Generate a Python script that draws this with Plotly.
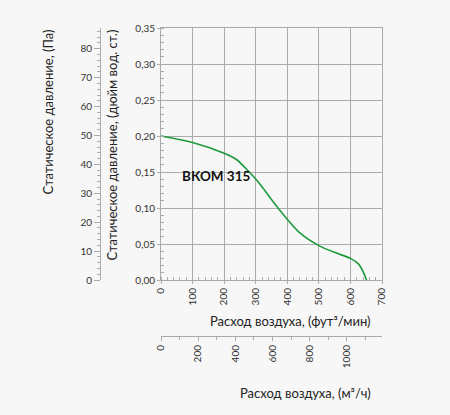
import plotly.graph_objects as go

# кривая вентилятора: расход (фут³/мин) и статическое давление (дюйм вод. ст.)
flow_cfm = [0, 100, 200, 240, 275, 310, 367, 441, 503, 558, 600, 626, 642, 651]
press_inwc = [0.200, 0.191, 0.176, 0.167, 0.152, 0.135, 0.102, 0.065, 0.047, 0.037, 0.030, 0.022, 0.010, 0.0]
curve_name = "ВКОМ 315"

CFM_TO_M3H = 1.699
INWC_TO_PA = 249.09
x_max_cfm = 700
y_max_inwc = 0.35

W, H = 450, 415
BG = "#f7f7f7"
GRID = "#ababab"
TXT = "#333333"
FONT = "Lato"


def px(x):
    return x / W


def py(y):
    return (H - y) / H


fig = go.Figure()

fig.add_trace(go.Scatter(
    x=flow_cfm, y=press_inwc, mode="lines", name=curve_name,
    line=dict(color="#1f9a3c", width=1.6, shape="spline", smoothing=0.8),
    showlegend=False,
))
# пустой след для второй пары осей (м³/ч, Па)
fig.add_trace(go.Scatter(x=[None], y=[None], xaxis="x2", yaxis="y2", showlegend=False))

x_dom = [px(161), px(382)]
y_dom = [py(280), py(28)]

fig.update_layout(
    width=W, height=H,
    margin=dict(l=0, r=0, t=0, b=0),
    paper_bgcolor=BG, plot_bgcolor=BG,
    separators=", ",
    font=dict(family=FONT, size=10, color=TXT),
    xaxis=dict(
        domain=x_dom, range=[0, x_max_cfm], dtick=100, tickangle=-90,
        showgrid=True, gridcolor=GRID, gridwidth=1, zeroline=False,
        showline=True, linecolor=GRID, mirror=True,
        ticks="outside", ticklen=3, tickcolor=GRID,
        minor=dict(dtick=20, ticks="inside", ticklen=3, tickcolor=GRID, showgrid=False),
        automargin=False, fixedrange=True,
    ),
    yaxis=dict(
        domain=y_dom, range=[0, y_max_inwc], dtick=0.05, tickformat=".2f",
        showgrid=True, gridcolor=GRID, gridwidth=1, zeroline=False,
        showline=True, linecolor=GRID, mirror=True,
        ticks="outside", ticklen=3, tickcolor=GRID,
        minor=dict(dtick=0.01, ticks="inside", ticklen=3, tickcolor=GRID, showgrid=False),
        automargin=False, fixedrange=True,
    ),
    xaxis2=dict(
        overlaying="x", anchor="free", position=py(336), side="bottom",
        domain=x_dom, range=[0, x_max_cfm * CFM_TO_M3H], dtick=200, tickangle=-90,
        showgrid=False, zeroline=False, showline=True, linecolor=GRID,
        ticks="outside", ticklen=4, tickcolor=GRID,
        minor=dict(dtick=100, ticks="outside", ticklen=3, tickcolor=GRID, showgrid=False),
        automargin=False, fixedrange=True,
    ),
    yaxis2=dict(
        overlaying="y", anchor="free", position=px(100), side="left",
        domain=y_dom, range=[0, y_max_inwc * INWC_TO_PA], dtick=10,
        showgrid=False, zeroline=False, showline=True, linecolor=GRID,
        ticks="outside", ticklen=6, tickcolor=GRID,
        minor=dict(dtick=2, ticks="outside", ticklen=3, tickcolor=GRID, showgrid=False),
        automargin=False, fixedrange=True,
    ),
)

title_font = dict(family=FONT, size=13, color="#222222")
fig.add_annotation(text="Расход воздуха, (фут³/мин)", xref="paper", yref="paper",
                   x=px(373), y=py(321), xanchor="right", yanchor="middle",
                   showarrow=False, font=title_font)
fig.add_annotation(text="Расход воздуха, (м³/ч)", xref="paper", yref="paper",
                   x=px(373), y=py(393), xanchor="right", yanchor="middle",
                   showarrow=False, font=title_font)
fig.add_annotation(text="Статическое давление, (Па)", xref="paper", yref="paper",
                   x=px(48), y=py(28), xanchor="center", yanchor="top", textangle=-90,
                   showarrow=False, font=title_font)
fig.add_annotation(text="Статическое давление, (дюйм вод. ст.)", xref="paper", yref="paper",
                   x=px(111), y=py(28), xanchor="center", yanchor="top", textangle=-90,
                   showarrow=False, font=title_font)
fig.add_annotation(text="<b>" + curve_name + "</b>", xref="x", yref="y",
                   x=60, y=0.144, xanchor="left", yanchor="middle",
                   showarrow=False, font=dict(family=FONT, size=13.5, color="#111111"))

# убрать поля страницы, чтобы фон совпадал по всему окну
fig.write_html(
    "out.html",
    config={"displayModeBar": False},
    post_script="document.body.style.margin='0';document.body.style.background='%s';" % BG,
)
